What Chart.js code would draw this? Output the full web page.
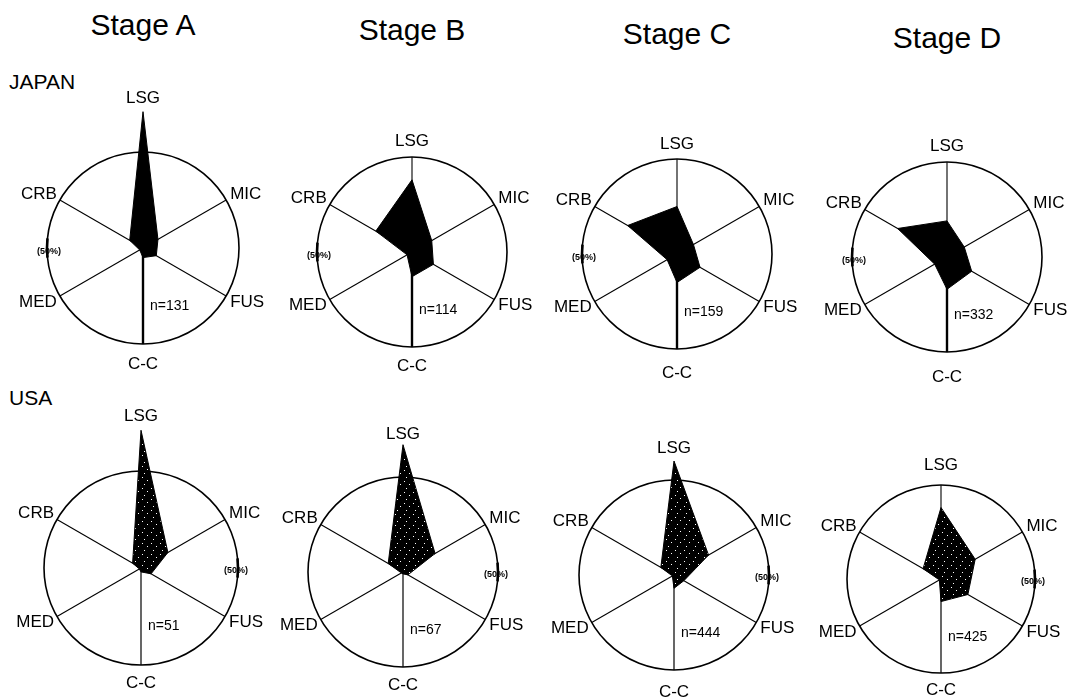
<!DOCTYPE html>
<html>
<head>
<meta charset="utf-8">
<script src="https://cdn.jsdelivr.net/npm/chart.js@4.4.0/dist/chart.umd.min.js"></script>
<style>
  html, body { margin: 0; padding: 0; background: #fff; }
  body { width: 1072px; height: 699px; position: relative; overflow: hidden;
         font-family: "Liberation Sans", Arial, sans-serif; color: #000; }
  .txt { position: absolute; white-space: nowrap; }
  .stage { width: 200px; text-align: center; font-size: 30px; line-height: 30px; }
  .country { font-size: 21px; line-height: 21px; }
  canvas { position: absolute; }
</style>
</head>
<body>
<script>
// axes of every radar, clockwise from the top
const axes = ["LSG", "MIC", "FUS", "C-C", "MED", "CRB"];
const stages = ["Stage A", "Stage B", "Stage C", "Stage D"];
const countries = ["JAPAN", "USA"];
const scaleMax = 50; // outer circle = 50 %

// percentages, same order as axes
const japanStageA = [71, 9, 8, 5, 2, 8];
const japanStageB = [38, 12, 13, 13, 3, 22];
const japanStageC = [25, 10, 14, 15, 6, 30];
const japanStageD = [19, 10.5, 15, 17, 7.5, 30];
const usaStageA = [71, 16, 6, 2, 1, 5];
const usaStageB = [67, 19.5, 3, 1, 1, 9];
const usaStageC = [60, 21, 6, 7, 1, 8];
const usaStageD = [38, 21, 16.5, 12, 1, 11];

const japanN = [131, 114, 159, 332];
const usaN = [51, 67, 444, 425];

// where each radar sits on the page (center, radius, label distances)
const japanLayout = [
  { cx: 143, cy: 248, r: 96, lsg: 150, cc: 116 },
  { cx: 412, cy: 252, r: 95, lsg: 111, cc: 114 },
  { cx: 677, cy: 254, r: 95, lsg: 110, cc: 119 },
  { cx: 947, cy: 257, r: 95, lsg: 111, cc: 120 },
];
const usaLayout = [
  { cx: 141, cy: 568, r: 97, lsg: 152, cc: 115 },
  { cx: 403, cy: 572, r: 95, lsg: 138, cc: 113 },
  { cx: 674, cy: 575, r: 95, lsg: 127, cc: 117 },
  { cx: 941, cy: 579, r: 94, lsg: 114, cc: 111 },
];
const titleBaselines = [35, 40, 44, 48];

const FONT = '"Liberation Sans", Arial, sans-serif';
const CW = 270, CH = 320, TOPOFF = 170, EXTRA = 50;

function addText(cls, text, left, top) {
  const d = document.createElement("div");
  d.className = "txt " + cls;
  d.textContent = text;
  d.style.left = left + "px";
  d.style.top = top + "px";
  document.body.appendChild(d);
}

// black with a few white speckles, for the USA polygons
function speckle() {
  const c = document.createElement("canvas");
  c.width = 9; c.height = 11;
  const g = c.getContext("2d");
  g.fillStyle = "#000";
  g.fillRect(0, 0, 9, 11);
  g.fillStyle = "#fff";
  [[1, 2], [6, 5], [3, 9]].forEach(([x, y]) => g.fillRect(x, y, 1, 1));
  return g.createPattern(c, "repeat");
}

const axisText = {
  id: "axisText",
  afterDatasetsDraw(chart, args, opts) {
    const s = chart.scales.r;
    const ctx = chart.ctx;
    const R = s.drawingArea;
    ctx.save();
    ctx.fillStyle = "#000";
    ctx.font = "17px " + FONT;
    ctx.textBaseline = "middle";
    chart.data.labels.forEach((lab, i) => {
      let p;
      if (i === 0 || i === 3) {
        p = s.getPointPosition(i, i === 0 ? opts.lsg : opts.cc);
        ctx.textAlign = "center";
      } else {
        const e = s.getPointPosition(i, R);
        const right = i < 3;
        ctx.textAlign = right ? "left" : "right";
        p = { x: e.x + (right ? 4 : -3), y: e.y + (i === 1 || i === 5 ? -6 : 6) };
      }
      ctx.fillText(lab, p.x, p.y);
    });
    // (50%) mark on the circle
    const my = s.yCenter + (opts.markLeft ? 4 : 3);
    const ang = opts.markLeft ? Math.PI : 0;
    ctx.strokeStyle = "#000";
    ctx.lineWidth = 2.6;
    ctx.beginPath();
    ctx.arc(s.xCenter, s.yCenter, R, ang - 0.1, ang + 0.1);
    ctx.stroke();
    ctx.font = "bold 9px " + FONT;
    ctx.textAlign = "center";
    const mx = opts.markLeft ? s.xCenter - R + 2 : s.xCenter + R - 2;
    ctx.fillText("(50%)", mx, my);
    // sample size
    ctx.font = "14px " + FONT;
    ctx.textAlign = "left";
    ctx.fillText("n=" + opts.n, s.xCenter + 7, s.yCenter + 58);
    ctx.restore();
  }
};

function radar(values, n, lay, fill, markLeft, ccWidth) {
  const cv = document.createElement("canvas");
  cv.width = CW; cv.height = CH;
  cv.style.left = (lay.cx - CW / 2) + "px";
  cv.style.top = (lay.cy - TOPOFF) + "px";
  document.body.appendChild(cv);
  new Chart(cv, {
    type: "radar",
    data: {
      labels: axes,
      datasets: [{
        data: values,
        backgroundColor: fill,
        borderColor: "#000",
        borderWidth: 1,
        pointRadius: 0,
        fill: true,
        clip: false,
      }],
    },
    options: {
      responsive: false,
      animation: false,
      layout: {
        // chart area is 2r wide and taller, so the radius stays r
        // and spikes above 50 % are not clipped
        padding: {
          left: CW / 2 - lay.r,
          right: CW / 2 - lay.r,
          top: TOPOFF - lay.r - EXTRA,
          bottom: CH - TOPOFF - lay.r - EXTRA,
        },
      },
      plugins: {
        legend: { display: false },
        tooltip: { enabled: false },
        axisText: { lsg: lay.lsg, cc: lay.cc, n: n, markLeft: markLeft },
      },
      scales: {
        r: {
          min: 0,
          max: scaleMax,
          ticks: { display: false, stepSize: scaleMax },
          pointLabels: { display: false },
          grid: { circular: true, color: "#000", lineWidth: 1.6 },
          angleLines: {
            color: "#000",
            lineWidth: (c) => (c.index === 3 ? ccWidth : 1.1),
          },
        },
      },
    },
    plugins: [axisText],
  });
}

// titles
stages.forEach((t, i) => {
  addText("stage", t, japanLayout[i].cx - 100, titleBaselines[i] - 25);
});
addText("country", countries[0], 9, 71);
addText("country", countries[1], 9, 387);

const japanData = [japanStageA, japanStageB, japanStageC, japanStageD];
const usaData = [usaStageA, usaStageB, usaStageC, usaStageD];
const dots = speckle();

japanData.forEach((v, i) => radar(v, japanN[i], japanLayout[i], "#000", true, 2.4));
usaData.forEach((v, i) => radar(v, usaN[i], usaLayout[i], dots, false, 1.2));
</script>
</body>
</html>
